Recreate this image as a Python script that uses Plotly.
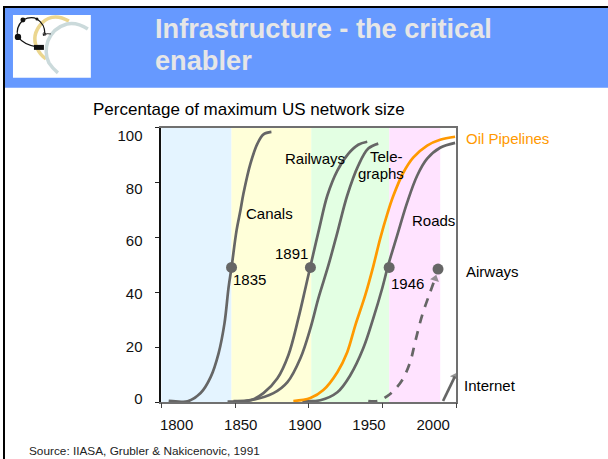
import plotly.graph_objects as go

FONT = "Liberation Sans"
GRAY = "#666666"
ORANGE = "#FF9900"

# ---- data ----
canals_x = [1793.8, 1799.2, 1808.6, 1818.7, 1826.5, 1832.7, 1837.3, 1840.5, 1842.8, 1846.7, 1849.8, 1852.1, 1857.6, 1863.0, 1867.7, 1873.9]
canals_y = [0.5, 0.3, 0.3, 3.3, 9.1, 17.8, 28.7, 41.8, 49.1, 62.5, 70.0, 76.0, 87.0, 94.2, 97.6, 98.5]
railways_x = [1839.7, 1857.6, 1867.7, 1878.6, 1887.1, 1894.9, 1900.4, 1904.3, 1911.2, 1917.5, 1925.3, 1933.8, 1941.6, 1948.6]
railways_y = [0.2, 0.7, 3.3, 8.7, 17.1, 30.5, 41.5, 49.5, 63.3, 75.3, 84.4, 90.5, 93.8, 94.9]
telegraphs_x = [1844.3, 1857.6, 1875.5, 1886.4, 1896.5, 1904.3, 1910.5, 1918.3, 1925.3, 1933.0, 1941.6, 1949.4, 1957.2]
telegraphs_y = [0.4, 0.7, 3.3, 7.3, 16.0, 26.9, 37.8, 49.8, 61.8, 75.3, 86.2, 92.4, 94.2]
oil_x = [1891.0, 1904.3, 1914.4, 1925.3, 1933.0, 1939.3, 1947.0, 1953.3, 1958.7, 1964.2, 1968.8, 1976.6, 1984.4, 1995.3, 2005.4, 2017.1]
oil_y = [0.4, 1.5, 4.4, 10.9, 18.2, 28.0, 38.9, 49.5, 59.6, 68.5, 75.0, 83.5, 89.1, 93.5, 95.6, 96.7]
roads_x = [1898.0, 1912.0, 1925.3, 1935.4, 1945.5, 1953.3, 1960.3, 1964.9, 1971.9, 1979.7, 1987.5, 1995.3, 2005.4, 2017.1]
roads_y = [0.4, 0.7, 3.6, 9.8, 19.6, 30.5, 41.5, 49.8, 60.7, 72.7, 82.5, 88.7, 92.7, 94.5]
airways_x = [1949.4, 1957.2, 1964.2, 1968.8, 1975.8, 1982.0, 1985.9, 1991.4, 1997.6, 2001.5]
airways_y = [0.4, 0.4, 2.2, 4.0, 8.0, 14.5, 21.8, 31.6, 40.0, 45.0]
internet_x = [2007.7, 2017.0]
internet_y = [0.4, 9.4]
midpoint_x = [1842.8, 1904.3, 1965.7, 2003.8]
midpoint_y = [49.1, 49.1, 49.1, 48.5]
band_edges = [1788, 1842.8, 1905, 1965.8, 2005.5]
band_colors = ["#E4F4FF", "#FFFFD9", "#E3FFE3", "#FFE3FF"]
x_labels = [1800, 1850, 1900, 1950, 2000]
x_tick_marks = [1788, 1845.6, 1903.2, 1960.8, 2018]
y_labels = [0, 20, 40, 60, 80, 100]

fig = go.Figure()


def line(x, y, color=GRAY, **kw):
    fig.add_trace(go.Scatter(x=x, y=y, mode="lines", line=dict(color=color, width=2.7, shape="spline", smoothing=1.0),
                             hoverinfo="skip", **kw))


line(canals_x, canals_y)
line(railways_x, railways_y)
line(telegraphs_x, telegraphs_y)
line(roads_x, roads_y)
line(oil_x, oil_y, ORANGE)

fig.add_trace(go.Scatter(x=airways_x, y=airways_y, mode="lines+markers",
                         line=dict(color=GRAY, width=2.7, dash="9px,8px", shape="spline", smoothing=1.0),
                         marker=dict(symbol="triangle-up", angle=[0] * 9 + [17], color=GRAY, line_width=0,
                                     size=[0] * 9 + [8]),
                         hoverinfo="skip"))
fig.add_trace(go.Scatter(x=internet_x, y=internet_y, mode="lines+markers", line=dict(color=GRAY, width=2.7),
                         marker=dict(symbol="triangle-up", angle=[0, 25], color=GRAY, line_width=0, size=[0, 8]),
                         cliponaxis=False, hoverinfo="skip"))
fig.add_trace(go.Scatter(x=midpoint_x, y=midpoint_y, mode="markers",
                         marker=dict(color=GRAY, size=11), cliponaxis=False, hoverinfo="skip"))

# invisible carriers for the helper axes
for xa, ya in (("x2", "y"), ("x", "y2"), ("x3", "y3")):
    fig.add_trace(go.Scatter(x=[None], y=[None], xaxis=xa, yaxis=ya, hoverinfo="skip"))

shapes = []
for i, c in enumerate(band_colors):
    shapes.append(dict(type="rect", xref="x", yref="y", x0=band_edges[i], x1=band_edges[i + 1], y0=0, y1=100,
                       fillcolor=c, line_width=0, layer="below"))


def page_rect(x0, y0, x1, y1, color):
    shapes.append(dict(type="rect", xref="x3", yref="y3", x0=x0, y0=y0, x1=x1, y1=y1,
                       fillcolor=color, line_width=0, layer="below"))


def page_path(d, color, width, fill=None):
    shapes.append(dict(type="path", xref="x3", yref="y3", path=d, line=dict(color=color, width=width),
                       fillcolor=fill or "rgba(0,0,0,0)", layer="below"))


page_rect(2, 5, 608, 7, "#000000")
page_rect(2, 5, 4, 459, "#000000")
page_rect(4, 7, 608, 87, "#6699FF")
page_rect(12, 14, 90, 77, "#FFFFFF")
# logo
page_path("M 68,20 Q 52,11 41,22 Q 30,34 36,47 Q 39,54 45,58", "#EBD68F", 3.5)
page_path("M 87,28 Q 76,21 66,23 Q 52,27 47,40 Q 43,52 48,62 Q 52,68 57,72", "#CBDADB", 3.5)
page_path("M 17,36 Q 14,27 22,19 Q 30,15 36,18 Q 44,23 44,33", "#111111", 1.2)
page_path("M 17,36 Q 23,44 36,46", "#111111", 1.2)
page_path("M 43,35 Q 41,31 44,32 Q 47,35 42,34 Q 46,32 50,33", "#111111", 0.8)
for cx, cy, r in ((22, 19, 2.5), (36, 18, 1.5), (17, 36, 3.2)):
    shapes.append(dict(type="circle", xref="x3", yref="y3", x0=cx - r, x1=cx + r, y0=cy - r, y1=cy + r,
                       fillcolor="#111111", line_width=0, layer="below"))
page_rect(33, 44, 43, 49, "#111111")

ann = []


def text(x, y, s, size=15, color="#000000", anchor="center", bold=False):
    if bold:
        s = "<b>" + s + "</b>"
    ann.append(dict(x=x, y=y, xref="x3", yref="y3", text=s, showarrow=False, xanchor=anchor, yanchor="middle",
                    font=dict(family=FONT, size=size, color=color)))


text(152.5, 28, "Infrastructure - the critical", 27.2, "#E6E6E6", "left", True)
text(152.5, 60, "enabler", 27.2, "#E6E6E6", "left", True)
text(90.5, 109, "Percentage of maximum US network size", 17, anchor="left")
text(26.5, 451, "Source: IIASA, Grubler &amp; Nakicenovic, 1991", 11.8, "#222222", "left")
text(269, 213, "Canals")
text(315, 158, "Railways")
text(386, 156, "Tele-")
text(381, 173, "graphs")
text(291, 253, "1891")
text(433, 220, "Roads")
text(249, 279, "1835")
text(407, 283, "1946")
text(463.5, 138, "Oil Pipelines", color=ORANGE, anchor="left")
text(463.5, 271, "Airways", anchor="left")
text(461.5, 385, "Internet", anchor="left")

H = 459
dom_x = [160.5 / 608, 456 / 608]
dom_y = [(H - 402) / H, (H - 127) / H]
xr = [1788, 2018]
tick_font = dict(family=FONT, size=15, color="#111111")

fig.update_layout(
    width=608, height=464, margin=dict(l=0, r=0, t=0, b=0, pad=0), showlegend=False, autosize=False,
    paper_bgcolor="#FFFFFF", plot_bgcolor="rgba(0,0,0,0)", shapes=shapes, annotations=ann,
    xaxis=dict(domain=dom_x, range=xr, anchor="y", tickvals=x_labels, ticks="", tickfont=tick_font,
               ticklabelstandoff=8, showgrid=False, zeroline=False, showline=True, linecolor="#707070",
               linewidth=1.5, mirror=True),
    xaxis2=dict(domain=dom_x, range=xr, anchor="y", overlaying="x", side="bottom", tickvals=x_tick_marks,
                showticklabels=False, ticks="outside", ticklen=5, tickcolor="#444444", showgrid=False,
                zeroline=False, showline=False),
    yaxis=dict(domain=dom_y, range=[0, 100], anchor="x", tickvals=y_labels, showticklabels=False, ticks="outside",
               ticklen=4, tickcolor="#222222", showgrid=False, zeroline=False, showline=True, linecolor="#707070",
               linewidth=1.5, mirror=True),
    yaxis2=dict(domain=dom_y, range=[-1.1, 103], anchor="x", overlaying="y", side="left", tickvals=y_labels,
                ticks="", tickfont=tick_font, ticklabelstandoff=14, showgrid=False, zeroline=False, showline=True,
                linecolor="#111111", linewidth=1.5),
    xaxis3=dict(domain=[0, 1], range=[0, 608], anchor="y3", visible=False, fixedrange=True),
    yaxis3=dict(domain=[0, 1], range=[H, 0], anchor="x3", visible=False, fixedrange=True),
)

fig.write_html("out.html", config=dict(displayModeBar=False, responsive=False),
               post_script="document.body.style.margin='0';document.body.style.overflow='hidden';")
